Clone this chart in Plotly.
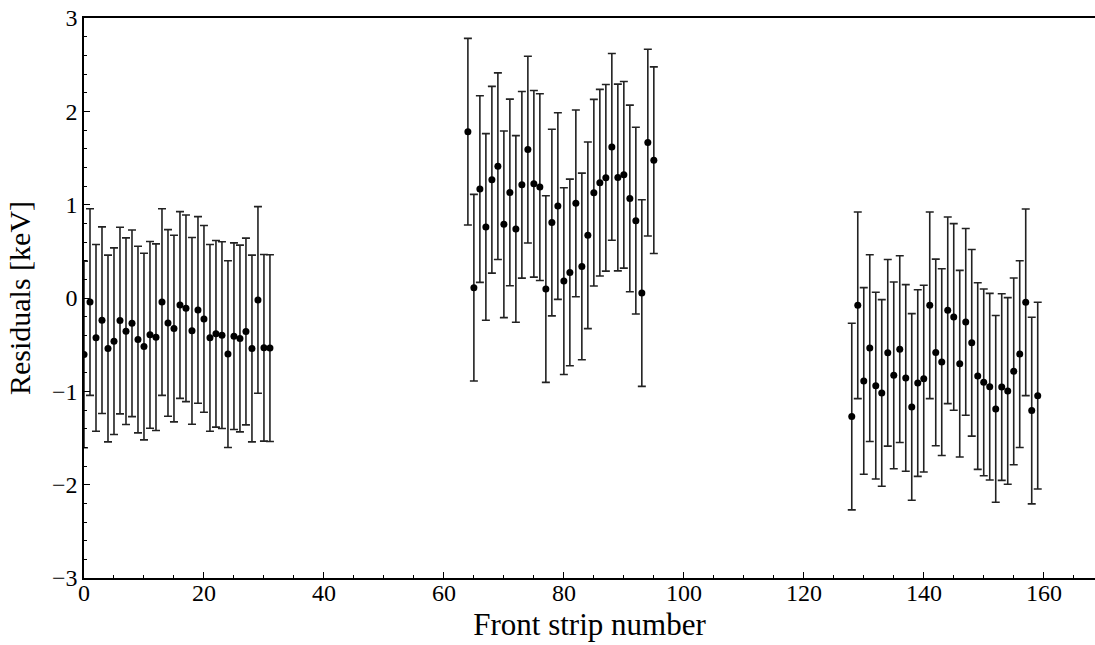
import plotly.graph_objects as go

strips_a = list(range(0, 32))
strips_b = list(range(64, 96))
strips_c = list(range(128, 160))

resid_a = [-0.605, -0.043, -0.427, -0.238, -0.541, -0.463, -0.242, -0.356,
           -0.271, -0.445, -0.520, -0.395, -0.420, -0.043, -0.267, -0.327,
           -0.075, -0.110, -0.352, -0.128, -0.224, -0.427, -0.384, -0.398,
           -0.601, -0.409, -0.434, -0.359, -0.541, -0.021, -0.534, -0.537]
resid_b = [1.782, 0.110, 1.167, 0.761, 1.267, 1.412, 0.790, 1.131,
           0.740, 1.213, 1.590, 1.224, 1.188, 0.096, 0.808, 0.985,
           0.181, 0.274, 1.014, 0.338, 0.672, 1.128, 1.235, 1.288,
           1.619, 1.291, 1.320, 1.067, 0.829, 0.053, 1.665, 1.476]
resid_c = [-1.270, -0.078, -0.889, -0.537, -0.939, -1.017, -0.587, -0.829,
           -0.548, -0.857, -1.167, -0.911, -0.864, -0.078, -0.583, -0.687,
           -0.132, -0.203, -0.704, -0.256, -0.480, -0.836, -0.904, -0.950,
           -1.188, -0.954, -0.996, -0.786, -0.601, -0.046, -1.206, -1.046]

strips = strips_a + strips_b + strips_c
residuals = resid_a + resid_b + resid_c
errors = [1.0] * len(strips)

x_ticks = [0, 20, 40, 60, 80, 100, 120, 140, 160]
x_ticktext = ["0", "20", "40", "60", "80", "100", "120", "140", "160"]
y_ticks = [-3, -2, -1, 0, 1, 2, 3]

FONT = "Liberation Serif"
TICKSIZE = 24

fig = go.Figure()
fig.add_trace(go.Scatter(
    x=strips, y=residuals, mode="markers",
    marker=dict(color="black", size=7),
    error_y=dict(type="data", array=errors, visible=True,
                 color="#222222", thickness=1.6, width=4),
    showlegend=False,
))

axis_common = dict(
    showgrid=False, zeroline=False, showline=True, linecolor="black",
    linewidth=1.5, ticks="inside", tickcolor="black", tickwidth=1.2,
    ticklen=6,
)

fig.update_xaxes(
    range=[0, 168.55], tickvals=x_ticks, mirror=True, showticklabels=False,
    minor=dict(dtick=5, ticks="inside", ticklen=3, tickcolor="black", tickwidth=1),
    title=dict(text="Front strip number", font=dict(family=FONT, size=31, color="black"), standoff=35),
    **axis_common,
)
fig.update_yaxes(
    range=[-3, 3], tickvals=y_ticks, mirror=False,
    tickfont=dict(family=FONT, size=TICKSIZE, color="black"),
    minor=dict(dtick=0.2, ticks="inside", ticklen=3, tickcolor="black", tickwidth=1),
    title=dict(text="Residuals [keV]", font=dict(family=FONT, size=30, color="black"), standoff=12),
    ticklabelstandoff=0,
    **axis_common,
)

for xv, txt in zip(x_ticks, x_ticktext):
    fig.add_annotation(
        x=xv, xref="x", y=0, yref="paper", yanchor="top", xanchor="center",
        text=txt, showarrow=False, yshift=0,
        font=dict(family=FONT, size=TICKSIZE, color="black"),
    )

fig.update_layout(
    width=1095, height=645,
    margin=dict(l=84, r=0, t=18, b=67),
    plot_bgcolor="white", paper_bgcolor="white",
    font=dict(family=FONT, color="black"),
)

fig.write_html("out.html")
